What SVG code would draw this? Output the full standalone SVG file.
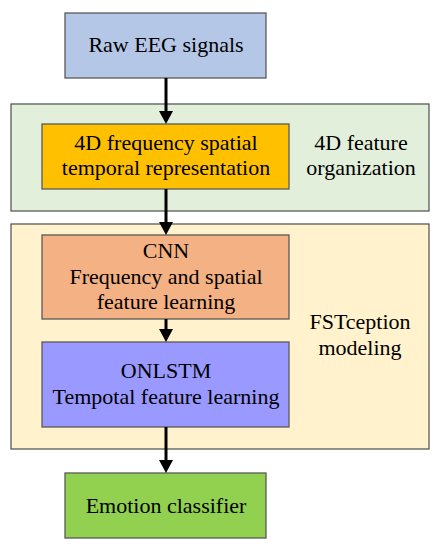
<svg xmlns="http://www.w3.org/2000/svg" width="439" height="550" viewBox="0 0 439 550" font-family="'Liberation Serif', 'Times New Roman', serif">
<style>
.box{stroke:#595959;stroke-width:1.3}
text{font-family:'Liberation Serif','Times New Roman',serif;font-size:22px;fill:#000;text-anchor:middle}
.conn{stroke:#000;stroke-width:3;fill:none}
.head{fill:#000}
</style>
<rect width="439" height="550" fill="#fff"/>
<g id="group-4d">
<rect class="box" x="11" y="104" width="418" height="107" fill="#e2efda"/>
<text x="361" y="150">4D feature</text>
<text x="361" y="175">organization</text>
</g>
<g id="group-fst">
<rect class="box" x="11" y="224" width="418" height="225" fill="#fff2cc"/>
<text x="360" y="329">FSTception</text>
<text x="360" y="355">modeling</text>
</g>
<g id="raw">
<rect class="box" x="65" y="13" width="201" height="65" fill="#b4c7e7"/>
<text x="166" y="52">Raw EEG signals</text>
</g>
<g id="rep4d">
<rect class="box" x="42" y="124" width="247" height="65" fill="#ffc000"/>
<text x="166" y="150">4D frequency spatial</text>
<text x="166" y="175">temporal representation</text>
</g>
<g id="cnn">
<rect class="box" x="42" y="235" width="247" height="84" fill="#f4b183"/>
<text x="166" y="258">CNN</text>
<text x="166" y="284">Frequency and spatial</text>
<text x="166" y="309">feature learning</text>
</g>
<g id="onlstm">
<rect class="box" x="42" y="342" width="247" height="85" fill="#9999ff"/>
<text x="166" y="378">ONLSTM</text>
<text x="166" y="404">Tempotal feature learning</text>
</g>
<g id="emotion">
<rect class="box" x="65" y="473" width="201" height="65" fill="#92d050"/>
<text x="166" y="513">Emotion classifier</text>
</g>
<g id="connectors">
<line class="conn" x1="166" y1="78" x2="166" y2="112"/>
<path class="head" d="M159,111 L173,111 L166,124 Z"/>
<line class="conn" x1="166" y1="189" x2="166" y2="223"/>
<path class="head" d="M159,222 L173,222 L166,235 Z"/>
<line class="conn" x1="166" y1="319" x2="166" y2="330"/>
<path class="head" d="M159,329 L173,329 L166,342 Z"/>
<line class="conn" x1="166" y1="427" x2="166" y2="461"/>
<path class="head" d="M159,460 L173,460 L166,473 Z"/>
</g>
</svg>
